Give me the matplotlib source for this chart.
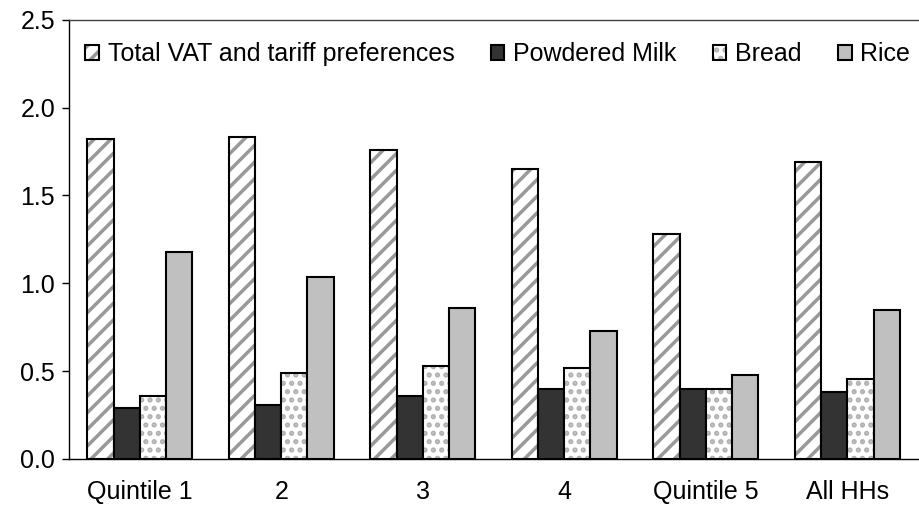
import matplotlib.pyplot as plt
import numpy as np

plt.rcParams['font.family'] = ['Liberation Sans', 'DejaVu Sans']
plt.rcParams['hatch.linewidth'] = 2.5

# Data
groups = ['Quintile 1', '2', '3', '4', 'Quintile 5', 'All HHs']
total_vat = [1.82, 1.835, 1.76, 1.65, 1.28, 1.69]
powdered_milk = [0.29, 0.31, 0.36, 0.40, 0.40, 0.38]
bread = [0.36, 0.49, 0.53, 0.52, 0.40, 0.455]
rice = [1.18, 1.035, 0.86, 0.73, 0.48, 0.85]

series = [
    ('Total VAT and tariff preferences', total_vat, 'white', '//', '#999999'),
    ('Powdered Milk', powdered_milk, '#333333', None, None),
    ('Bread', bread, 'white', '..', '#b0b0b0'),
    ('Rice', rice, '#c0c0c0', None, None),
]

fig = plt.figure(figsize=(9.19, 5.08), dpi=100)
ax = fig.add_axes([0.075, 0.0965, 0.924, 0.8645])

x = np.arange(len(groups))
width = 0.185
handles = []
for i, (label, vals, color, hatch, hcolor) in enumerate(series):
    pos = x + (i - 1.5) * width
    if hatch:
        # hatched fill first, then black outline on top
        b1 = ax.bar(pos, vals, width, color=color, hatch=hatch,
                    edgecolor=hcolor, linewidth=0)
        b2 = ax.bar(pos, vals, width, fill=False, edgecolor='black', linewidth=1.5)
        handles.append((b1[0], b2[0]))
    else:
        b = ax.bar(pos, vals, width, color=color, edgecolor='black', linewidth=1.5)
        handles.append(b[0])

ax.set_xlim(-0.5, len(groups) - 0.5)
ax.set_ylim(0, 2.5)
ax.set_yticks(np.arange(0, 2.51, 0.5))
ax.set_yticklabels([f'{v:.1f}' for v in np.arange(0, 2.51, 0.5)])
ax.set_xticks(x)
ax.set_xticklabels(groups)
ax.tick_params(axis='x', length=0, pad=15, labelsize=18)
ax.tick_params(axis='y', length=5, width=1, direction='out', pad=5, labelsize=18)

ax.spines['right'].set_visible(False)
for s in ['left', 'bottom']:
    ax.spines[s].set_color('black')
    ax.spines[s].set_linewidth(1)
ax.spines['top'].set_color('#404040')
ax.spines['top'].set_linewidth(1)

ax.legend(handles, [s[0] for s in series], loc='upper center',
          bbox_to_anchor=(0.505, 1.0), ncol=4, frameon=False, fontsize=18,
          handlelength=0.55, handleheight=0.55, handletextpad=0.35,
          columnspacing=1.45)

fig.savefig('out.png', dpi=100)
